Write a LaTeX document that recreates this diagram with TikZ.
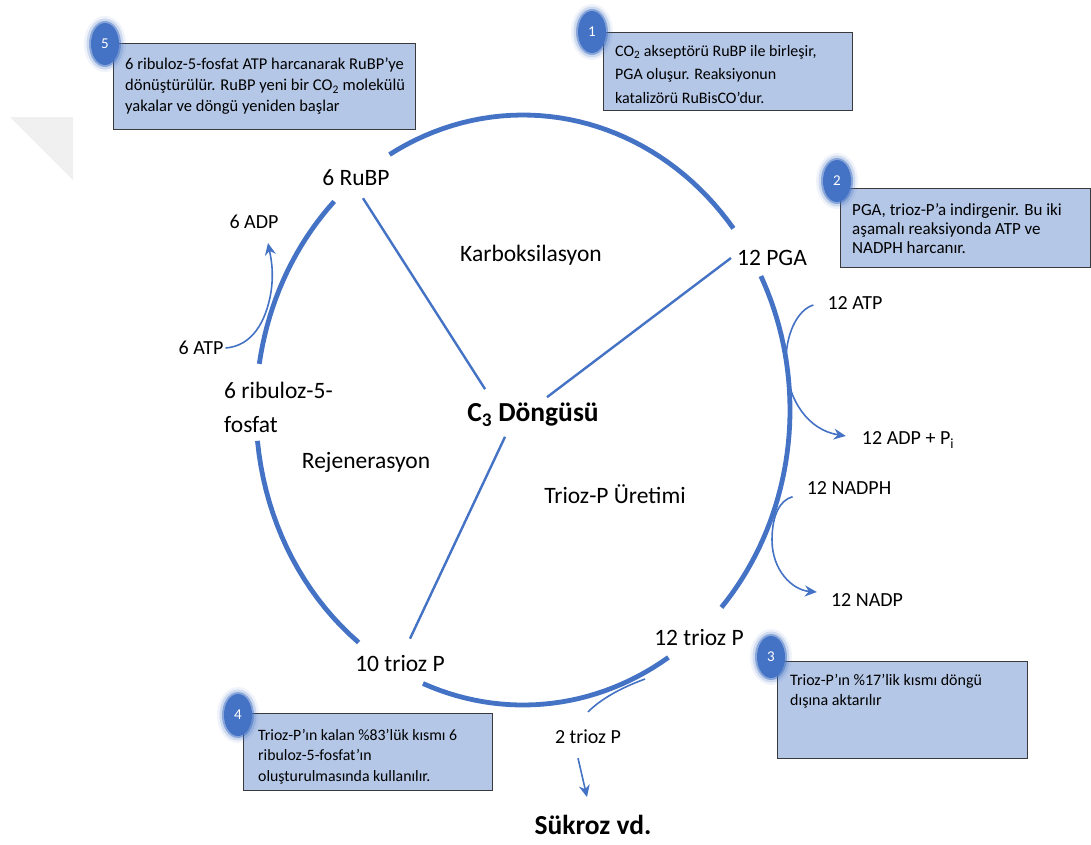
\documentclass[tikz,border=0pt]{standalone}
\usepackage{fontspec}
\setmainfont{Carlito}
\usepackage{tikz}
\usetikzlibrary{positioning}
\usetikzlibrary{calc,arrows.meta,shapes.geometric}

\definecolor{cycblue}{HTML}{4472C4}
\definecolor{boxfill}{HTML}{B4C7E7}
\definecolor{boxline}{HTML}{3A3A3A}

\begin{document}
\begin{tikzpicture}[x=1pt,y=-1pt,every node/.style={inner sep=2pt}]
	
	\tikzstyle{big}=[font=\fontsize{23.5}{28}\selectfont]
	\tikzstyle{small}=[font=\fontsize{20}{24}\selectfont]
	\tikzstyle{title}=[font=\fontsize{27.5}{32}\selectfont\bfseries]
	\tikzstyle{ring}=[draw=cycblue,line width=4.8pt]
	\tikzstyle{spoke}=[draw=cycblue,line width=2.4pt]
	\tikzstyle{flow}=[draw=cycblue,line width=1.6pt]
	\tikzstyle{tip}=[-{Stealth[length=12pt,width=11pt]}]
	\tikzstyle{infobox}=[rectangle,draw=boxline,fill=boxfill,line width=1pt,anchor=north west,inner sep=0pt]
	\tikzstyle{infotext}=[anchor=north west,inner sep=0pt,align=left,font=\fontsize{15.8}{20.5}\selectfont]
	\tikzstyle{badge}=[ellipse,fill=cycblue,text=white,minimum width=28pt,minimum height=42pt,inner sep=0pt,
	font=\fontsize{15}{18}\selectfont,
	preaction={draw=cycblue,line width=4pt,opacity=.5},
	preaction={draw=cycblue,line width=9pt,opacity=.2},
	preaction={draw=cycblue,line width=14pt,opacity=.08}]
	
	\useasboundingbox (0,0) rectangle (1091,844);
	\fill[black!6] (10,117) -- (73,117) -- (73,180) -- cycle;
	
	% cycle labels
	\node [big] (rubp) at (356,178) {6 RuBP};
	\node [big] (pga) at (772,258) {12 PGA};
	\node [big,align=left,anchor=west,font=\fontsize{23.5}{34}\selectfont] (rib5) at (222,407) {6 ribuloz-5-\\fosfat};
	\node [big] (trioz10) at (400,663) {10 trioz P};
	\node [big] (trioz12) at (699,637) {12 trioz P};
	\node [big] (karb) at (531,255) {Karboksilasyon};
	\node [big] (rejen) at (366,462) {Rejenerasyon};
	\node [big] (uretim) at (615,494) {Trioz-P Üretimi};
	\node [title] (c3) at (533,415) {C\textsubscript{3} Döngüsü};
	
	\node [small] (adp6) at (254,222) {6 ADP};
	\node [small] (atp6) at (201,348) {6 ATP};
	\node [small] (atp12) at (855,303) {12 ATP};
	\node [small] (adp12) at (908,440) {12 ADP + P\textsubscript{i}};
	\node [small] (nadph) at (849,488) {12 NADPH};
	\node [small] (nadp) at (867,600) {12 NADP};
	\node [small] (trioz2) at (588,737) {2 trioz P};
	\node [title] (sukroz) at (593,825) {Sükroz vd.};
	
	% the ring
	\draw[ring] plot[domain=38:120,samples=40] ({523+267*cos(\x)},{410-295*sin(\x)});
	\draw[ring] plot[domain=135:171,samples=20] ({523+267*cos(\x)},{410-295*sin(\x)});
	\draw[ring] plot[domain=186:232,samples=20] ({523+267*cos(\x)},{410-295*sin(\x)});
	\draw[ring] plot[domain=248:303,samples=30] ({523+267*cos(\x)},{410-295*sin(\x)});
	\draw[ring] plot[domain=-42:27,samples=40] ({523+267*cos(\x)},{410-295*sin(\x)});
	
	\draw[spoke] ($(rubp.south)+(7,10)$) -- ($(c3.north west)+(20,-12)$);
	\draw[spoke] ($(pga.west)+(-4,0)$) -- ($(c3.north)+(14,-4)$);
	\draw[spoke] ($(c3.south)+(-28,8)$) -- ($(trioz10.north)+(10,-14)$);
	
	% ATP, NADPH
	\draw[flow,tip] (atp6.east) .. controls (252,346) and (266,322) .. (271,292) .. controls (274,272) and (271,258) .. ($(adp6.south)+(14,12)$);
	\draw[flow,tip] ($(atp12.west)+(-12,2)$) .. controls (797,310) and (785,335) .. (786,365) .. controls (788,400) and (808,430) .. ($(adp12.west)+(-14,-4)$);
	\draw[flow,tip] ($(nadph.south west)+(-12,0)$) .. controls (780,500) and (772,515) .. (772,540) .. controls (772,570) and (792,590) .. ($(nadp.west)+(-12,-8)$);
	
	\coordinate (split) at (645,679);
	\draw[flow] ($(trioz2.north)+(0,-16)$) .. controls (598,702) and (615,690) .. (split);
	\draw[flow,tip] ($(trioz2.south)+(-10,12)$) -- ($(sukroz.north)+(-6,-16)$);
	
	% boxes
	\node [infobox,minimum width=302pt,minimum height=86pt] (box5) at (113,43) {};
	\node [infotext,font=\fontsize{16.5}{20.8}\selectfont] (txt5) at ($(box5.north west)+(12,15)$) {6 ribuloz-5-fosfat ATP harcanarak RuBP’ye\\dönüştürülür. RuBP yeni bir CO\textsubscript{2} molekülü\\yakalar ve döngü yeniden başlar};
	\node [infobox,minimum width=249pt,minimum height=78pt] (box1) at (603,32) {};
	\node [infotext,font=\fontsize{16}{23.5}\selectfont] (txt1) at ($(box1.north west)+(12,13)$) {CO\textsubscript{2} akseptörü RuBP ile birleşir,\\PGA oluşur. Reaksiyonun\\katalizörü RuBisCO’dur.};
	\node [infobox,minimum width=250pt,minimum height=79pt] (box2) at (840,188) {};
	\node [infotext,font=\fontsize{17}{19.2}\selectfont] (txt2) at ($(box2.north west)+(12,15)$) {PGA, trioz-P’a indirgenir. Bu iki\\aşamalı reaksiyonda ATP ve\\NADPH harcanır.};
	\node [infobox,minimum width=250pt,minimum height=97pt] (box3) at (777,661) {};
	\node [infotext,font=\fontsize{16}{20}\selectfont] (txt3) at ($(box3.north west)+(13,13)$) {Trioz-P’ın \%17’lik kısmı döngü\\dışına aktarılır};
	\node [infobox,minimum width=249pt,minimum height=77pt] (box4) at (243,713) {};
	\node [infotext] (txt4) at ($(box4.north west)+(15,16)$) {Trioz-P’ın kalan \%83’lük kısmı 6\\ribuloz-5-fosfat’ın\\oluşturulmasında kullanılır.};
	
	\node [badge] (num5) at (105,44) {5};
	\node [badge] (num1) at (592,32) {1};
	\node [badge] (num2) at (837,181) {2};
	\node [badge] (num3) at (771,657) {3};
	\node [badge] (num4) at (238,715) {4};
	
\end{tikzpicture}
\end{document}
